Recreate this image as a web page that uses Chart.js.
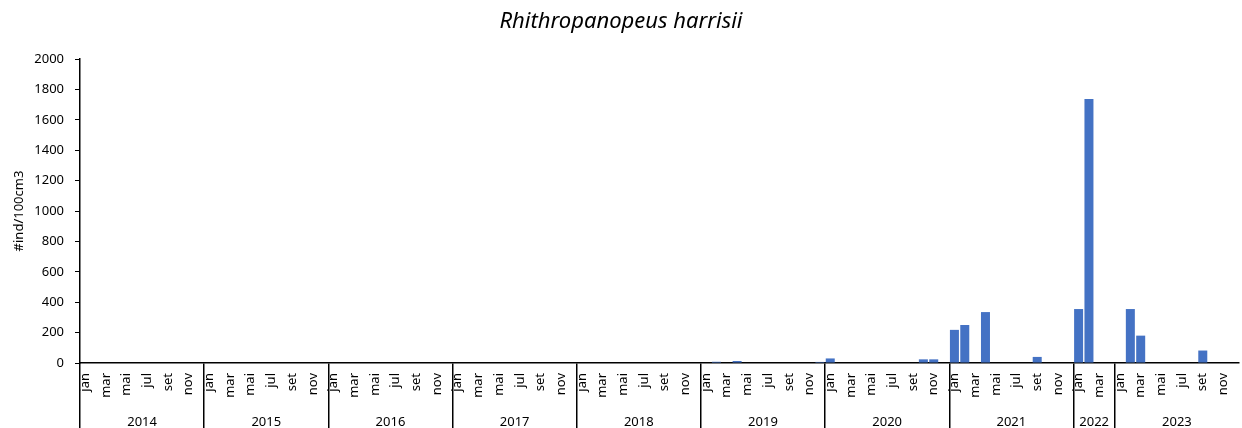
<!DOCTYPE html>
<html>
<head>
<meta charset="utf-8">
<script src="https://cdn.jsdelivr.net/npm/chart.js@4.4.1/dist/chart.umd.min.js"></script>
<style>
html,body{margin:0;padding:0;background:#fff;}
#wrap{width:1242px;height:428px;}
</style>
</head>
<body>
<div id="wrap"><canvas id="c" width="1242" height="428"></canvas></div>
<script>
// ---- data ----
const years = ['2014','2015','2016','2017','2018','2019','2020','2021','2022','2023'];
const monthNames = ['jan','fev','mar','abr','mai','jun','jul','ago','set','out','nov','dez'];
const monthsPerYear = [12,12,12,12,12,12,12,12,4,12];

const v2014 = [0,0,0,0,0,0,0,0,0,0,0,0];
const v2015 = [0,0,0,0,0,0,0,0,0,0,0,0];
const v2016 = [0,0,0,0,0,0,0,0,0,0,0,0];
const v2017 = [0,0,0,0,0,0,0,0,0,0,0,0];
const v2018 = [0,0,0,0,0,0,0,0,0,0,0,0];
const v2019 = [0,8,0,13,0,0,0,0,0,0,0,7];
const v2020 = [30,0,0,0,0,0,0,0,0,24,24,0];
const v2021 = [218,250,0,335,0,0,0,0,40,0,0,0];
const v2022 = [355,1737,0,0];
const v2023 = [0,355,180,0,0,0,0,0,82,0,0,0];

const yTitle = '#ind/100cm3';
const chartTitle = 'Rhithropanopeus harrisii';
const yMin = 0, yMax = 2000, yStep = 200;

// ---- build categories ----
const yearValues = [v2014,v2015,v2016,v2017,v2018,v2019,v2020,v2021,v2022,v2023];
const catMonths = [], catYears = [], values = [];
const boundaries = [], centers = [], centerYear = {};
let idx = 0;
years.forEach((y, yi) => {
  const n = monthsPerYear[yi];
  boundaries.push(idx);
  centers.push(idx + n / 2);
  centerYear[idx + n / 2] = y;
  for (let m = 0; m < n; m++) {
    catMonths.push(monthNames[m]);
    catYears.push(y);
    values.push(yearValues[yi][m]);
  }
  idx += n;
});
const totalCats = idx;
const boundarySet = new Set(boundaries);
const labels = catMonths.map((m, i) => m + ' ' + catYears[i]);

const baseFont = {family: "'Noto Sans', 'Open Sans', sans-serif", size: 13};

new Chart(document.getElementById('c'), {
  type: 'bar',
  data: {
    labels: labels,
    datasets: [{
      data: values,
      backgroundColor: '#4472C4',
      borderWidth: 0,
      categoryPercentage: 1.0,
      barPercentage: 0.87
    }]
  },
  options: {
    responsive: false,
    animation: false,
    devicePixelRatio: 1,
    layout: {padding: {left: 0, right: 0, top: 0, bottom: 0}},
    plugins: {
      legend: {display: false},
      tooltip: {enabled: false},
      title: {
        display: true,
        text: chartTitle,
        color: '#000',
        font: {family: "'Noto Sans', 'Open Sans', sans-serif", size: 22, style: 'italic', weight: 'normal'},
        padding: {top: 9, bottom: 23.6}
      }
    },
    scales: {
      y: {
        min: yMin, max: yMax,
        ticks: {stepSize: yStep, color: '#000', font: baseFont, padding: 11, callback: v => String(v)},
        grid: {drawOnChartArea: false, drawTicks: true, tickLength: 5, color: '#000', lineWidth: 1},
        border: {display: true, color: '#000', width: 1.5},
        title: {display: true, text: yTitle, color: '#000', font: baseFont, padding: {top: 11, bottom: 0}},
        afterFit(s) { s.width = 80; }
      },
      x: {
        type: 'category',
        offset: true,
        grid: {
          offset: true,
          drawOnChartArea: false,
          drawTicks: true,
          tickLength: 40,
          lineWidth: 1.5,
          color: ctx => (ctx.index < totalCats && boundarySet.has(ctx.index)) ? '#000' : 'rgba(0,0,0,0)'
        },
        border: {display: true, color: '#000', width: 1.5},
        ticks: {
          autoSkip: false,
          minRotation: 90,
          maxRotation: 90,
          padding: -30,
          color: '#000',
          font: baseFont,
          callback: (v, i) => (i % 2 === 0 ? catMonths[i] : '')
        },
        afterFit(s) { s.height = 40; s.paddingLeft = 0; s.paddingRight = 3; }
      },
      x2: {
        type: 'linear',
        position: 'bottom',
        min: 0,
        max: totalCats,
        offset: false,
        afterBuildTicks(s) {
          s.ticks = boundaries.concat(centers).sort((a, b) => a - b).map(v => ({value: v}));
        },
        grid: {
          offset: false,
          drawOnChartArea: false,
          drawTicks: true,
          tickLength: 25,
          lineWidth: 1.5,
          color: ctx => (ctx.tick && boundarySet.has(ctx.tick.value)) ? '#000' : 'rgba(0,0,0,0)'
        },
        border: {display: false},
        ticks: {
          autoSkip: false,
          minRotation: 0,
          maxRotation: 0,
          padding: -14,
          color: '#000',
          font: baseFont,
          callback: v => (centerYear[v] !== undefined ? centerYear[v] : '')
        },
        afterFit(s) { s.height = 25; s.paddingLeft = 0; s.paddingRight = 0; }
      }
    }
  }
});
</script>
</body>
</html>
